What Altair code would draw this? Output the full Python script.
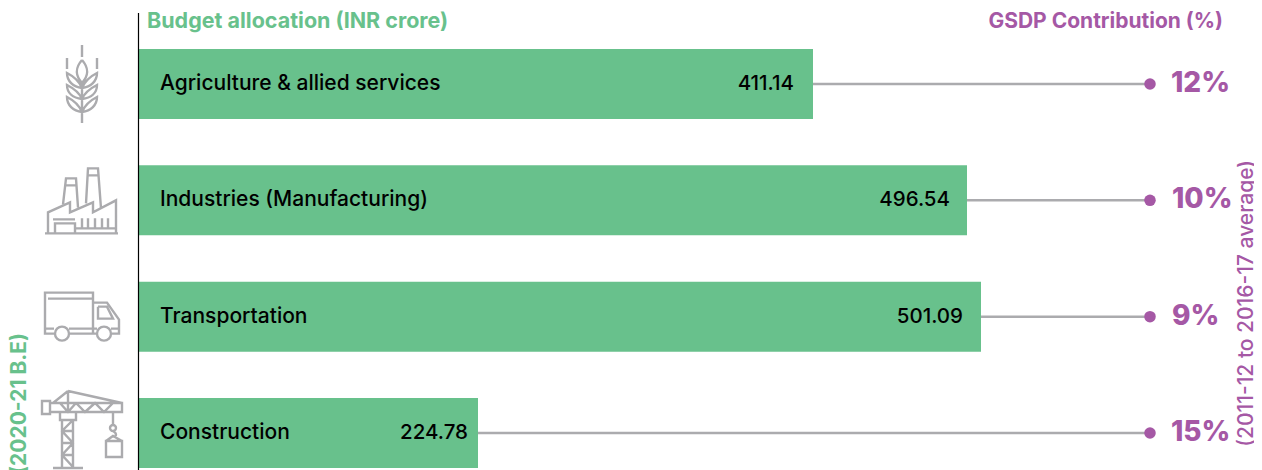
import altair as alt
import pandas as pd

sectors = ["Agriculture & allied services", "Industries (Manufacturing)", "Transportation", "Construction"]
budget_labels = ["411.14", "496.54", "501.09", "224.78"]
gsdp_labels = ["12%", "10%", "9%", "15%"]
# drawn bar lengths and label edges in pixel-like units from the axis
bar_length = [674, 828, 842, 339]
value_right = [655, 811, 824, 329]
name_left = [21, 21, 21, 21]
dot_pos = [1011, 1011, 1011, 1011]
pct_left = [1032, 1033, 1033, 1032]
icon_pos = [-57, -57, -57, -57]

GREEN = "#68C18C"
PURPLE = "#A558A5"
GRAY = "#ABABAE"
FONT = "Inter"

wheat = ("M0,-39L0,-27M-15,-26L-15,-15M15,-26L15,-15"
         "M0,-24C-7,-16 -7,-9 0,-1C7,-9 7,-16 0,-24"
         "M0,39L0,-1"
         "M0,4C-3,-3 -9,-8 -15,-11C-15,-3 -9,3 0,4M0,4C3,-3 9,-8 15,-11C15,-3 9,3 0,4"
         "M0,15C-3,8 -9,4 -15,1C-15,9 -9,14 0,15M0,15C3,8 9,4 15,1C15,9 9,14 0,15"
         "M0,28C-3,21 -9,16 -15,13C-15,21 -9,27 0,28M0,28C3,21 9,16 15,13C15,21 9,27 0,28")
factory = ("M-37,33L36,33M-34,33L-34,12L-12,2L-12,12L11,2L11,12L34,0L34,33"
           "M-19,4L-16,-22L-6,-22L-4,7M-17,-15L-5,-15"
           "M4,3L6,-32L16,-32L19,8M5,-25L17,-25"
           "M-27,33L-27,23L-7,23L-7,33M-29,19L-7,19"
           "M0,18L0,27M6,18L6,27M13,18L13,27M20,18L20,27M26,18L26,27M-7,28L34,28")
truck = ("M-28,17L-37,17L-37,-24L11,-24L11,16M-34,-18L11,-18M-37,12L-28,12M-13,12L15,12M-13,17L15,17"
         "M11,-14L25,-14L37,3L37,17L30,17M29,12L37,12"
         "M16,-10L25,-10L31,2L16,2L16,-10"
         "M-27,17A7,7 0 1,0 -13,17A7,7 0 1,0 -27,17"
         "M15,17A7,7 0 1,0 29,17A7,7 0 1,0 15,17")
crane = ("M-40,-32L-32,-32L-32,-19L-40,-19Z"
         "M-32,-30L40,-30L40,-21L-32,-21M-14,-42L-29,-30M-14,-42L40,-30M-14,-42L-14,-21"
         "M-22,-30L-14,-21L-6,-30M-6,-30L3,-21L13,-30L22,-21L31,-30"
         "M-22,-21L-22,-13L-6,-13L-6,-21"
         "M-20,-13L-20,35M-9,-13L-9,35M-20,-2L-9,-2M-20,10L-9,10M-20,22L-9,22"
         "M-9,-13L-20,-2L-9,10L-20,22L-9,34"
         "M-29,35L1,35"
         "M31,-21L31,-8M31,-8A3,3 0 1,0 31,-2A3,3 0 1,0 31,-8M31,-2C36,1 34,5 30,3"
         "M24,8L40,8L40,24L24,24ZM24,8L31,3L40,8")
icon_paths = [wheat, factory, truck, crane]

df = pd.DataFrame({
    "sector": sectors,
    "budget": budget_labels,
    "gsdp": gsdp_labels,
    "length": bar_length,
    "value_right": value_right,
    "name_left": name_left,
    "dot": dot_pos,
    "pct_left": pct_left,
    "icon": icon_pos,
})

xs = alt.Scale(domain=[-131, 1115], range=[0, 1246], nice=False, zero=False)
ys = alt.Scale(type="point", domain=sectors, range=[76, 425], padding=0)
X = lambda f: alt.X(f, type="quantitative", scale=xs, axis=None, title=None)
Y = alt.Y("sector:N", scale=ys, axis=None, title=None, sort=None)
base = alt.Chart(df)

connector = base.mark_rule(color=GRAY, strokeWidth=2.5).encode(x=X("length"), x2="dot:Q", y=Y)
bars = base.mark_bar(color=GREEN, size=70).encode(x=X("length"), y=Y)
axis_line = alt.Chart(pd.DataFrame({"x": [-0.5]})).mark_rule(color="#000000", strokeWidth=1.2).encode(
    x=X("x"), y=alt.value(5), y2=alt.value(462))
dots = base.mark_point(filled=True, color=PURPLE, size=133, opacity=1, shape="circle").encode(x=X("dot"), y=Y)
names = base.mark_text(align="left", baseline="middle", font=FONT, fontSize=21, fontWeight=500, color="#000000").encode(
    x=X("name_left"), y=Y, text="sector:N")
values = base.mark_text(align="right", baseline="middle", font=FONT, fontSize=20.5, fontWeight=500, color="#000000").encode(
    x=X("value_right"), y=Y, text="budget:N")
pcts = base.mark_text(align="left", baseline="middle", font=FONT, fontSize=28, fontWeight=800, color=PURPLE).encode(
    x=X("pct_left"), y=Y, text="gsdp:N")
icons = base.mark_point(filled=False, size=4, stroke=GRAY, strokeWidth=2.4, opacity=1).encode(
    x=X("icon"), y=Y,
    shape=alt.Shape("sector:N", scale=alt.Scale(domain=sectors, range=icon_paths), legend=None))

def note(text, x, y, color, size, weight, align="left", angle=0):
    return alt.Chart(pd.DataFrame({"t": [text]})).mark_text(
        align=align, baseline="middle", font=FONT, fontSize=size, fontWeight=weight,
        color=color, angle=angle
    ).encode(x=alt.value(x), y=alt.value(y), text="t:N")

chart = alt.layer(
    connector, bars, axis_line, dots, names, values, pcts, icons,
    note("Budget allocation (INR crore)", 139, 14, GREEN, 21.5, 700),
    note("GSDP Contribution (%)", 1215, 14, PURPLE, 21, 700, align="right"),
    note("(2011-12 to 2016-17 average)", 1238.5, 152, PURPLE, 21, 500, align="right", angle=270),
    note("(2020-21 B.E)", 12, 325, GREEN, 21, 700, align="right", angle=270),
).properties(
    width=1246, height=462, padding=0, autosize=alt.AutoSizeParams(type="none"),
).configure_view(stroke=None)

chart.save("out.html", embed_options={"renderer": "svg", "actions": False})
